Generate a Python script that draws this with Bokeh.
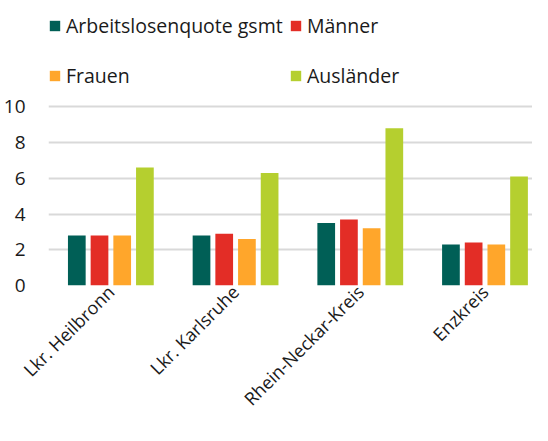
import numpy as np
from math import pi
from bokeh.plotting import figure
from bokeh.models import ColumnDataSource, Range1d, FixedTicker, Legend, LegendItem
from bokeh.transform import dodge
from bokeh.embed import file_html
from bokeh.resources import INLINE

categories = ["Lkr. Heilbronn", "Lkr. Karlsruhe", "Rhein-Neckar-Kreis", "Enzkreis"]
gesamt = [2.8, 2.8, 3.5, 2.3]
maenner = [2.8, 2.9, 3.7, 2.4]
frauen = [2.8, 2.6, 3.2, 2.3]
auslaender = [6.6, 6.3, 8.8, 6.1]
series_names = ["Arbeitslosenquote gsmt", "Männer", "Frauen", "Ausländer"]
colors = ["#005F56", "#E32D26", "#FFA62B", "#B5CF2F"]
y_ticks = [0, 2, 4, 6, 8, 10]

FONT = "Open Sans"
TXT = "#1a1a1a"

pos = [i + 0.5 for i in range(len(categories))]
source = ColumnDataSource(dict(x=pos, gesamt=gesamt, maenner=maenner,
                               frauen=frauen, auslaender=auslaender))

p = figure(width=532, height=425, output_backend="svg", toolbar_location=None,
           x_range=Range1d(0, 3.881), y_range=Range1d(0, 15.95),
           min_border_top=0, min_border_right=0, min_border_left=48,
           min_border_bottom=140)

cols = ["gesamt", "maenner", "frauen", "auslaender"]
offsets = [-0.273, -0.091, 0.091, 0.273]
renderers = []
for c, off, col in zip(cols, offsets, colors):
    r = p.vbar(x=dodge("x", off), top=c, width=0.142, source=source,
               fill_color=col, line_color=None)
    renderers.append(r)

p.xaxis.ticker = FixedTicker(ticks=pos)
p.xaxis.major_label_overrides = {pv: c for pv, c in zip(pos, categories)}
p.xaxis.major_label_orientation = pi / 4
p.xaxis.axis_line_color = None
p.xaxis.major_tick_line_color = None
p.xaxis.minor_tick_line_color = None
p.xaxis.major_tick_out = 0
p.xaxis.major_tick_in = 0
p.xaxis.major_label_text_font = FONT
p.xaxis.major_label_text_font_size = "18px"
p.xaxis.major_label_text_color = TXT
p.xaxis.major_label_standoff = 3

p.yaxis.ticker = FixedTicker(ticks=y_ticks)
p.yaxis.axis_line_color = None
p.yaxis.major_tick_line_color = None
p.yaxis.minor_tick_line_color = None
p.yaxis.major_tick_out = 0
p.yaxis.major_tick_in = 0
p.yaxis.major_label_text_font = FONT
p.yaxis.major_label_text_font_size = "19px"
p.yaxis.major_label_text_color = TXT
p.yaxis.major_label_standoff = 23

p.xgrid.grid_line_color = None
p.ygrid.grid_line_color = "#D9D9D9"
p.ygrid.grid_line_width = 2
p.outline_line_color = None

def make_legend(idxs, x):
    items = [LegendItem(label=series_names[i], renderers=[renderers[i]]) for i in idxs]
    lg = Legend(items=items, location=(x, 196), orientation="vertical",
                padding=0, margin=0, spacing=23, glyph_width=13, glyph_height=13,
                label_standoff=5, label_text_font=FONT, label_text_font_size="19.5px",
                label_text_color=TXT, background_fill_alpha=0, border_line_color=None,
                label_height=20)
    p.add_layout(lg, "center")

make_legend([0, 2], 0)
make_legend([1, 3], 241)

open("out.html", "w").write(file_html(p, INLINE))
